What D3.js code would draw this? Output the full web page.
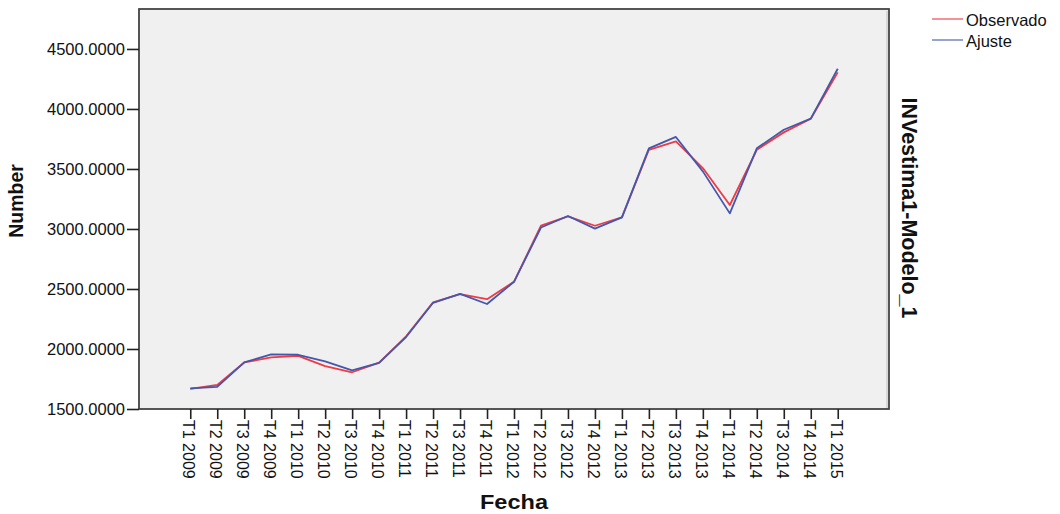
<!DOCTYPE html>
<html>
<head>
<meta charset="utf-8">
<script src="https://cdn.jsdelivr.net/npm/d3@7"></script>
<style>
  html, body { margin: 0; padding: 0; background: #ffffff; }
  svg { display: block; }
  text { font-family: "Liberation Sans", Arial, sans-serif; fill: #111; }
</style>
</head>
<body>
<svg id="chart" width="1060" height="514"></svg>
<script>
const categories = ["T1 2009","T2 2009","T3 2009","T4 2009","T1 2010","T2 2010","T3 2010","T4 2010",
  "T1 2011","T2 2011","T3 2011","T4 2011","T1 2012","T2 2012","T3 2012","T4 2012",
  "T1 2013","T2 2013","T3 2013","T4 2013","T1 2014","T2 2014","T3 2014","T4 2014","T1 2015"];
const observado = [1668, 1700, 1888, 1930, 1942, 1858, 1806, 1886, 2105, 2388, 2458, 2415,
  2560, 3028, 3105, 3027, 3097, 3660, 3730, 3508, 3200, 3660, 3805, 3918, 4305];
const ajuste = [1672, 1684, 1888, 1955, 1952, 1897, 1822, 1884, 2100, 2385, 2460, 2375,
  2560, 3012, 3108, 3003, 3097, 3672, 3767, 3480, 3130, 3672, 3827, 3920, 4335];
const yTicks = [1500, 2000, 2500, 3000, 3500, 4000, 4500];
const seriesNames = ["Observado", "Ajuste"];
const seriesColors = ["#f03a44", "#4358ad"];

const svg = d3.select("#chart");
const pLeft = 139, pRight = 889, pTop = 9, pBottom = 409;

const x = d3.scalePoint().domain(categories).range([pLeft, pRight]).padding(1.9);
const y = d3.scaleLinear().domain([1500, 4833]).range([pBottom, pTop]);

// plot background
svg.append("rect").attr("x", pLeft).attr("y", pTop).attr("width", pRight - pLeft).attr("height", pBottom - pTop)
  .attr("fill", "#f0f0f0");
// subtle inner shadow on right
svg.append("line").attr("x1", pRight - 2).attr("x2", pRight - 2).attr("y1", pTop + 2).attr("y2", pBottom)
  .attr("stroke", "#d8d8d8").attr("stroke-width", 2);

// lines
const line = d3.line().x((d, i) => x(categories[i])).y(d => y(d));
[observado, ajuste].forEach((s, k) => {
  svg.append("path").datum(s).attr("d", line).attr("fill", "none")
    .attr("stroke", seriesColors[k]).attr("stroke-width", 1.8).attr("stroke-linejoin", "round");
});

// border
svg.append("rect").attr("x", pLeft).attr("y", pTop).attr("width", pRight - pLeft).attr("height", pBottom - pTop)
  .attr("fill", "none").attr("stroke", "#444").attr("stroke-width", 1.8);

// y axis
const yAxis = svg.append("g").attr("transform", `translate(${pLeft},0)`)
  .call(d3.axisLeft(y).tickValues(yTicks).tickSize(12).tickPadding(2).tickFormat(d3.format(".4f")));
yAxis.select(".domain").remove();
yAxis.selectAll(".tick line").attr("stroke", "#222").attr("stroke-width", 1.6);
yAxis.selectAll(".tick text").style("font-size", "16.5px").style("font-family", "Liberation Sans, Arial, sans-serif")
  .attr("fill", "#222");

// x axis
const xAxis = svg.append("g").attr("transform", `translate(0,${pBottom})`)
  .call(d3.axisBottom(x).tickSize(10).tickPadding(0));
xAxis.select(".domain").remove();
xAxis.selectAll(".tick line").attr("stroke", "#222").attr("stroke-width", 1.6);
xAxis.selectAll(".tick text")
  .style("font-size", "16px").style("font-family", "Liberation Sans, Arial, sans-serif")
  .attr("fill", "#222")
  .attr("text-anchor", "start")
  .attr("dy", null)
  .attr("y", 0)
  .attr("dominant-baseline", "central")
  .attr("transform", "translate(-2,11) rotate(90)");

// axis titles
svg.append("text").attr("transform", "translate(16,201) rotate(-90)")
  .attr("text-anchor", "middle").attr("dominant-baseline", "central")
  .style("font-size", "19.5px").style("font-weight", "bold").text("Number");
svg.append("text").attr("x", 514).attr("y", 509)
  .attr("text-anchor", "middle").attr("textLength", 68).attr("lengthAdjust", "spacingAndGlyphs")
  .style("font-size", "21px").style("font-weight", "bold").text("Fecha");
svg.append("text").attr("transform", "translate(909,208) rotate(90)")
  .attr("text-anchor", "middle").attr("dominant-baseline", "central")
  .style("font-size", "21.5px").style("font-weight", "bold").text("INVestima1-Modelo_1");

// legend
const legend = svg.append("g");
seriesNames.forEach((name, i) => {
  const ly = 19 + i * 21;
  legend.append("line").attr("x1", 932).attr("x2", 963).attr("y1", ly).attr("y2", ly)
    .attr("stroke", seriesColors[i]).attr("stroke-width", 1.3).attr("opacity", 0.85);
  legend.append("text").attr("x", 966).attr("y", ly + 1).attr("dominant-baseline", "central")
    .style("font-size", "16.5px").attr("fill", "#222").text(name);
});
</script>
</body>
</html>
